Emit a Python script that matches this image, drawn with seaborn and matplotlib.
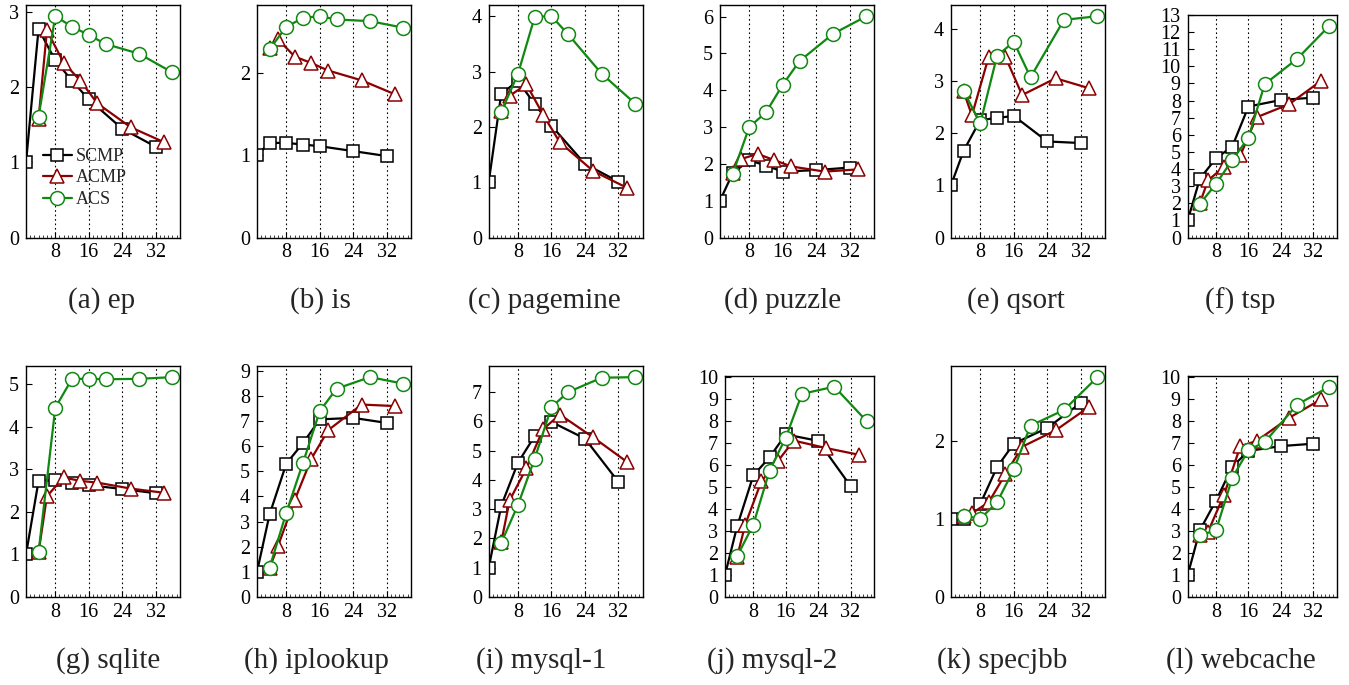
import pandas as pd
import matplotlib
matplotlib.use('Agg')
import matplotlib.pyplot as plt
from matplotlib.ticker import MultipleLocator, FixedLocator
import seaborn as sns

sns.set_style('ticks')
plt.rcParams['font.family'] = ['Liberation Serif', 'DejaVu Serif']

# thread counts for each series (points are staggered in the original)
scmp_x = [1, 4, 8, 12, 16, 24, 32]
acmp_x = [4, 6, 10, 14, 18, 26, 34]
acs_x = [4, 8, 12, 16, 20, 28, 36]

benchmarks = ['ep', 'is', 'pagemine', 'puzzle', 'qsort', 'tsp',
              'sqlite', 'iplookup', 'mysql-1', 'mysql-2', 'specjbb', 'webcache']
letters = list('abcdefghijkl')

# speedup values
scmp = {
    'ep':       [1.0, 2.78, 2.36, 2.09, 1.84, 1.45, 1.21],
    'is':       [1.0, 1.15, 1.15, 1.13, 1.11, 1.05, 0.99],
    'pagemine': [1.0, 2.60, 2.83, 2.41, 2.02, 1.33, 1.01],
    'puzzle':   [1.0, 1.74, 2.10, 1.95, 1.79, 1.83, 1.90],
    'qsort':    [1.0, 1.66, 2.25, 2.29, 2.33, 1.84, 1.81],
    'tsp':      [1.0, 3.43, 4.63, 5.31, 7.65, 8.03, 8.17],
    'sqlite':   [1.0, 2.73, 2.75, 2.67, 2.63, 2.54, 2.44],
    'iplookup': [1.0, 3.28, 5.30, 6.12, 7.06, 7.12, 6.92],
    'mysql-1':  [1.0, 3.12, 4.59, 5.50, 5.98, 5.41, 3.93],
    'mysql-2':  [1.0, 3.21, 5.52, 6.34, 7.38, 7.09, 5.04],
    'specjbb':  [1.0, 1.0, 1.19, 1.66, 1.96, 2.16, 2.48],
    'webcache': [1.0, 3.03, 4.38, 5.91, 6.63, 6.85, 6.96],
}
acmp = {
    'ep':       [1.58, 2.76, 2.33, 2.09, 1.79, 1.47, 1.27],
    'is':       [2.30, 2.41, 2.20, 2.12, 2.03, 1.91, 1.74],
    'pagemine': [2.29, 2.56, 2.77, 2.22, 1.72, 1.20, 0.90],
    'puzzle':   [1.74, 2.13, 2.27, 2.10, 1.93, 1.79, 1.85],
    'qsort':    [2.80, 2.34, 3.46, 3.46, 2.73, 3.05, 2.86],
    'tsp':      [2.00, 3.33, 4.14, 4.79, 7.02, 7.78, 9.16],
    'sqlite':   [1.05, 2.37, 2.81, 2.73, 2.69, 2.55, 2.45],
    'iplookup': [1.15, 2.02, 3.85, 5.50, 6.63, 7.65, 7.59],
    'mysql-1':  [1.87, 3.30, 4.40, 5.73, 6.23, 5.45, 4.62],
    'mysql-2':  [1.82, 3.29, 5.26, 6.16, 7.10, 6.76, 6.46],
    'specjbb':  [1.03, 1.07, 1.21, 1.57, 1.92, 2.13, 2.43],
    'webcache': [2.80, 2.95, 4.65, 6.85, 7.08, 8.13, 8.98],
}
acs = {
    'ep':       [1.61, 2.95, 2.81, 2.70, 2.58, 2.45, 2.20],
    'is':       [2.29, 2.56, 2.67, 2.69, 2.65, 2.63, 2.55],
    'pagemine': [2.27, 2.96, 3.99, 4.00, 3.67, 2.96, 2.42],
    'puzzle':   [1.72, 3.00, 3.40, 4.15, 4.79, 5.53, 6.01],
    'qsort':    [2.81, 2.19, 3.48, 3.75, 3.07, 4.17, 4.24],
    'tsp':      [1.96, 3.13, 4.53, 5.82, 8.95, 10.43, 12.37],
    'sqlite':   [1.05, 4.45, 5.13, 5.13, 5.12, 5.13, 5.17],
    'iplookup': [1.16, 3.35, 5.34, 7.39, 8.28, 8.74, 8.48],
    'mysql-1':  [1.85, 3.15, 4.73, 6.49, 7.00, 7.49, 7.51],
    'mysql-2':  [1.85, 3.29, 5.74, 7.23, 9.22, 9.55, 7.98],
    'specjbb':  [1.04, 1.00, 1.21, 1.63, 2.19, 2.39, 2.81],
    'webcache': [2.80, 3.03, 5.40, 6.67, 7.03, 8.73, 9.55],
}

rows = []
for b in benchmarks:
    for name, xs, vals in [('SCMP', scmp_x, scmp[b]), ('ACMP', acmp_x, acmp[b]), ('ACS', acs_x, acs[b])]:
        for x, v in zip(xs, vals):
            rows.append({'bench': b, 'series': name, 'threads': x, 'speedup': v})
df = pd.DataFrame(rows)

styles = {
    'SCMP': dict(color='black', marker='s', ms=8.5),
    'ACMP': dict(color='#8b0000', marker='^', ms=9.5),
    'ACS': dict(color='#118811', marker='o', ms=10),
}

W, H = 1349, 685
fig = plt.figure(figsize=(W / 100, H / 100), dpi=100)

rights = [180, 411, 642.7, 874, 1105, 1336.7]
row_tb = [(4.7, 237.5), (365.7, 597)]
cap_x = [[102, 320, 544, 783, 1016, 1240], [108, 316, 541, 772, 1002, 1241]]
cap_y = [301, 661]

for i, b in enumerate(benchmarks):
    r, c = divmod(i, 6)
    sub = df[df['bench'] == b]
    ymax = sub['speedup'].max() * 1.052
    two_digit = ymax >= 10
    width = 149 if two_digit else 154
    top, bot = row_tb[r]
    if two_digit:
        top += 10
    ax = fig.add_axes([(rights[c] - width) / W, 1 - bot / H, width / W, (bot - top) / H])

    handles = []
    for name in ['SCMP', 'ACMP', 'ACS']:
        st = styles[name]
        sns.lineplot(data=sub[sub['series'] == name], x='threads', y='speedup', ax=ax,
                     color=st['color'], marker=st['marker'], markersize=st['ms'],
                     markerfacecolor='white', markeredgecolor=st['color'],
                     markeredgewidth=1.1, linewidth=1.6, label=name, legend=False)
        handles.append(ax.lines[-1])

    ax.set_xlim(1, 37.8)
    ax.set_ylim(0, ymax)
    ax.xaxis.set_major_locator(FixedLocator([8, 16, 24, 32]))
    ax.xaxis.set_minor_locator(MultipleLocator(1))
    ax.yaxis.set_major_locator(MultipleLocator(1))
    ax.xaxis.grid(True, which='major', linestyle=(0, (1.5, 2.5)), color='black', linewidth=0.8)
    ax.tick_params(axis='both', which='major', direction='in', length=4, width=0.8,
                   labelsize=14.5, pad=4, colors='black')
    ax.tick_params(axis='y', which='major', pad=5)
    ax.tick_params(axis='x', which='minor', direction='in', length=2.5, width=0.6)
    ax.set_xlabel('')
    ax.set_ylabel('')
    for s in ax.spines.values():
        s.set_color('black')
        s.set_linewidth(1.0)

    if i == 0:
        ax.legend(handles=handles, labels=['SCMP', 'ACMP', 'ACS'], frameon=False,
                  loc='upper left', bbox_to_anchor=(0.11, 0.385), borderpad=0,
                  borderaxespad=0, fontsize=13, handlelength=1.6, handletextpad=0.2,
                  labelspacing=0.25)

    fig.text(cap_x[r][c] / W, 1 - cap_y[r] / H, f'({letters[i]}) {b}',
             ha='center', va='center', fontsize=21)

fig.savefig('out.png', dpi=100)
